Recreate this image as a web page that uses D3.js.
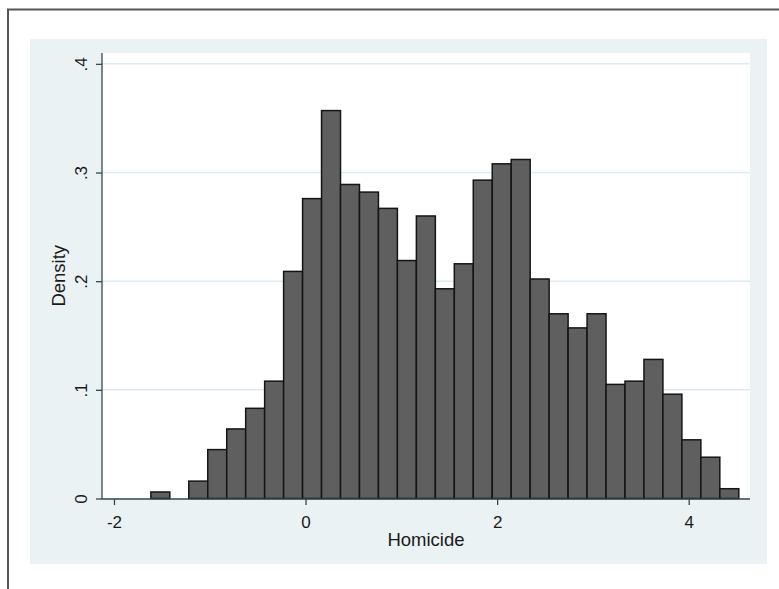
<!DOCTYPE html>
<html>
<head>
<meta charset="utf-8">
<script src="https://cdn.jsdelivr.net/npm/d3@7"></script>
<style>
  html, body { margin: 0; padding: 0; background: #fff; }
  svg { display: block; font-family: "Liberation Sans", Arial, sans-serif; }
</style>
</head>
<body>
<div id="chart"></div>
<script>
// Histogram bins (start of first bin, width) and density per bin.
var binStart = -1.615;
var binWidth = 0.198;
var densities = [0.006, 0, 0.016, 0.045, 0.064, 0.083, 0.108, 0.209, 0.276, 0.357,
                 0.289, 0.282, 0.267, 0.219, 0.260, 0.193, 0.216, 0.293, 0.308, 0.312,
                 0.202, 0.170, 0.157, 0.170, 0.105, 0.108, 0.128, 0.096, 0.054, 0.038, 0.009];
var xTicks = [-2, 0, 2, 4];
var yTicks = [0, 0.1, 0.2, 0.3, 0.4];

var width = 779, height = 589;
var plot = { left: 102, right: 750, top: 53, bottom: 498.5 };

var svg = d3.select('#chart').append('svg')
    .attr('width', width)
    .attr('height', height);

// Outer frame and graph region.
svg.append('rect').attr('x', 8).attr('y', 9.5).attr('width', 800).attr('height', 600)
    .attr('fill', '#fff').attr('stroke', '#555').attr('stroke-width', 2);
svg.append('rect').attr('x', 30).attr('y', 39).attr('width', 737).attr('height', 525)
    .attr('fill', '#eaf2f4');
svg.append('rect').attr('x', plot.left).attr('y', plot.top)
    .attr('width', plot.right - plot.left).attr('height', plot.bottom - plot.top)
    .attr('fill', '#fff');

var x = d3.scaleLinear().domain([-2.125, 4.64]).range([plot.left, plot.right]);
var y = d3.scaleLinear().domain([0, 0.41]).range([plot.bottom, plot.top]);

// Gridlines.
svg.append('g').selectAll('line')
    .data(yTicks.filter(function(d) { return d > 0; }))
    .enter().append('line')
    .attr('x1', plot.left).attr('x2', plot.right)
    .attr('y1', function(d) { return y(d); })
    .attr('y2', function(d) { return y(d); })
    .attr('stroke', '#dcebf2').attr('stroke-width', 1.5);

// Bars.
var bins = densities.map(function(v, i) {
    return { x0: binStart + i * binWidth, x1: binStart + (i + 1) * binWidth, v: v };
}).filter(function(d) { return d.v > 0; });

svg.append('g').selectAll('rect')
    .data(bins)
    .enter().append('rect')
    .attr('x', function(d) { return x(d.x0); })
    .attr('width', function(d) { return x(d.x1) - x(d.x0); })
    .attr('y', function(d) { return y(d.v); })
    .attr('height', function(d) { return y(0) - y(d.v); })
    .attr('fill', '#5f5f5f')
    .attr('stroke', '#151515')
    .attr('stroke-width', 1.5);

// Axes.
var axisColor = '#33474f';
var fmtY = function(d) { return d === 0 ? '0' : d3.format('.1f')(d).replace(/^0/, ''); };

var yAxis = svg.append('g')
    .attr('transform', 'translate(' + plot.left + ',0)')
    .call(d3.axisLeft(y).tickValues(yTicks).tickSize(6).tickSizeOuter(0).tickFormat(fmtY));
yAxis.select('.domain').attr('d', 'M0,' + plot.top + 'V' + (plot.bottom + 0.5));
yAxis.selectAll('text')
    .attr('x', null).attr('dy', null)
    .attr('transform', 'translate(-15,0) rotate(-90)')
    .attr('text-anchor', 'middle')
    .attr('font-size', 17);

var xAxis = svg.append('g')
    .attr('transform', 'translate(0,' + (plot.bottom + 0.5) + ')')
    .call(d3.axisBottom(x).tickValues(xTicks).tickSize(6).tickSizeOuter(0)
        .tickFormat(function(d) { return String(d); }));
xAxis.select('.domain').attr('d', 'M' + plot.left + ',0H' + plot.right);
xAxis.selectAll('text')
    .attr('y', 28.5).attr('dy', null)
    .attr('font-size', 17);

svg.selectAll('.domain, .tick line').attr('stroke', axisColor).attr('stroke-width', 1.3);
svg.selectAll('.tick text').attr('fill', '#1a1a1a').attr('font-family', '"Liberation Sans", Arial, sans-serif');

// Axis titles.
svg.append('text')
    .attr('x', (plot.left + plot.right) / 2).attr('y', 546)
    .attr('text-anchor', 'middle')
    .attr('font-size', 18.5).attr('fill', '#1a1a1a')
    .text('Homicide');

svg.append('text')
    .attr('transform', 'translate(65,' + ((plot.top + plot.bottom) / 2) + ') rotate(-90)')
    .attr('text-anchor', 'middle')
    .attr('font-size', 18.5).attr('fill', '#1a1a1a')
    .text('Density');
</script>
</body>
</html>
